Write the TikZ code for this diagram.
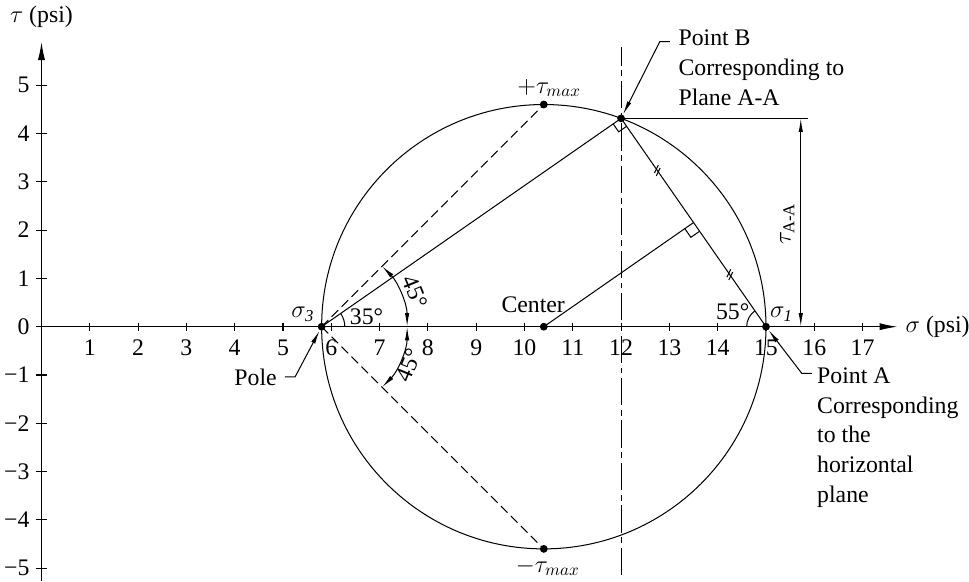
\documentclass[tikz,border=0pt]{standalone}
\usepackage{amsmath}
\usepackage{fontspec}
\setmainfont{Liberation Serif}
\usetikzlibrary{arrows.meta, positioning, calc}

\begin{document}
\begin{tikzpicture}[
      font=\fontsize{14}{17.5}\selectfont,
      line width=0.6pt,
      dot/.style={circle, fill, inner sep=0pt, minimum size=4.6pt},
      note/.style={align=left, inner sep=0pt},
      axisarrow/.style={-{Latex[length=10.5pt, width=4.2pt]}},
      leader/.style={-{Latex[length=8pt, width=2.6pt]}},
      dimline/.style={{Latex[length=8pt, width=2.6pt]}-{Latex[length=8pt, width=2.6pt]}},
      guide/.style={dash pattern=on 5.5pt off 2.8pt},
      centerline/.style={dash pattern=on 16pt off 2.8pt on 3.4pt off 2.8pt},
      >=Latex
    ]
      \useasboundingbox (-0.859,-5.265) rectangle (19.203,6.764);

      \coordinate (O) at (0,0);
      \coordinate (sigmaend) at (17.72,0);
      \coordinate (taubot) at (0,-5.265);
      \coordinate (tauend) at (0,5.89);
      \draw[axisarrow] (O) -- (sigmaend);
      \draw[axisarrow] (taubot) -- (tauend);
      \node[inner sep=0pt, right=0.16cm of sigmaend] (sigmalabel) {$\sigma$ (psi)};
      \node[inner sep=0pt, above=0.3cm of tauend] (taulabel) {$\tau$ (psi)};

      \foreach \x in {1,...,17} {
        \draw (\x,-0.08) -- (\x,0.08);
        \node (sx\x) at (\x,-0.43) {\x};
      }
      \foreach \y in {0,...,5} {
        \draw (-0.12,\y) -- (0.12,\y);
        \node[anchor=east, inner sep=0pt] (ty\y) at (-0.24,\y) {\y};
      }
      \foreach \y in {1,...,5} {
        \draw (-0.12,-\y) -- (0.12,-\y);
        \node[anchor=east, inner sep=0pt] (tyn\y) at (-0.24,-\y) {−\y};
      }

      \node[dot] (pole) at (5.8,0) {};
      \node[dot] (sone) at (15,0) {};
      \node[dot] (ctr) at (10.4,0) {};
      \node[dot] (tmaxp) at (10.4,4.6) {};
      \node[dot] (tmaxm) at (10.4,-4.6) {};
      \node[dot] (ptB) at (12,4.3128) {};
      \coordinate (mid) at ($(ptB)!0.5!(sone)$);

      \draw (ctr.center) circle[radius=4.6];
      \draw (pole.center) -- (ptB.center) -- (sone.center);
      \draw (ctr.center) -- (mid);
      \draw[guide] (pole.center) -- (tmaxp.center);
      \draw[guide] (pole.center) -- (tmaxm.center);

      \coordinate (cltop) at (12,5.8);
      \coordinate (clbot) at (12,-5.14);
      \draw[centerline] (clbot) -- (cltop);

      \draw[shift={(ptB.center)}, rotate=-55.18] (0.2,0) -- (0.2,-0.2) -- (0,-0.2);
      \draw[shift={(mid)}, rotate=-55.18] (0.22,0) -- (0.22,-0.22) -- (0,-0.22);
      \foreach \f in {0.25,0.75}
        \draw[shift={($(ptB)!\f!(sone)$)}, rotate=-55.18]
          (0.01,-0.08) -- (-0.08,0.08) (0.08,-0.08) -- (-0.01,0.08);

      \draw ($(pole.center)+(0.48,0)$) arc[start angle=0, end angle=34.82, radius=0.48];
      \draw[dimline] ($(pole.center)+(1.77,0)$) arc[start angle=0, end angle=45, radius=1.77];
      \draw[dimline] ($(pole.center)+(1.77,0)$) arc[start angle=0, end angle=-45, radius=1.77];
      \draw ($(sone.center)+(-0.4,0)$) arc[start angle=180, end angle=124.82, radius=0.4];

      \coordinate (extB) at (15.87,4.3128);
      \coordinate (dimtop) at (15.72,4.3128);
      \coordinate (dimbot) at (15.72,0);
      \draw (ptB.center) -- (extB);
      \draw[dimline] (dimtop) -- (dimbot);
      \node[rotate=90] (tauAA) at (15.44,2.13) {$\tau_{\text{A-A}}$};

      \node (sthree) at (5.41,0.25) {$\sigma_{\mathit{3}}$};
      \node (ang35) at (6.73,0.21) {35°};
      \node[rotate=-68, inner sep=1pt] (ang45a) at (7.74,0.72) {45°};
      \node[rotate=68, inner sep=1pt] (ang45b) at (7.6,-0.8) {45°};
      \node (ctrlabel) at (10.18,0.45) {Center};
      \node (ang55) at (14.31,0.30) {55°};
      \node (sonelabel) at (15.32,0.26) {$\sigma_{\mathit{1}}$};
      \node (tmaxplabel) at (10.51,4.94) {$+\tau_{max}$};
      \node (tmaxmlabel) at (10.48,-4.97) {$-\tau_{max}$};

      \node[note, anchor=east] (polelabel) at (4.88,-1.04) {Pole};
      \coordinate[right=0.16cm of polelabel] (tailpole);
      \coordinate (kneepole) at (5.25,-1.04);
      \draw[leader] (tailpole) -- (kneepole) -- (pole);

      \node[note, anchor=north west] (labB) at (13.18,6.15)
        {Point B\\Corresponding to\\Plane A-A};
      \coordinate (tailB) at (13.01,5.90);
      \coordinate (kneeB) at (12.80,5.90);
      \draw[leader] (tailB) -- (kneeB) -- (ptB);

      \node[note, anchor=north west] (labA) at (16.05,-0.84)
        {Point A\\Corresponding\\to the\\horizontal\\plane};
      \coordinate (tailA) at (15.95,-0.965);
      \coordinate (kneeA) at (15.74,-0.965);
      \draw[leader] (tailA) -- (kneeA) -- (sone);
    \end{tikzpicture}
\end{document}
